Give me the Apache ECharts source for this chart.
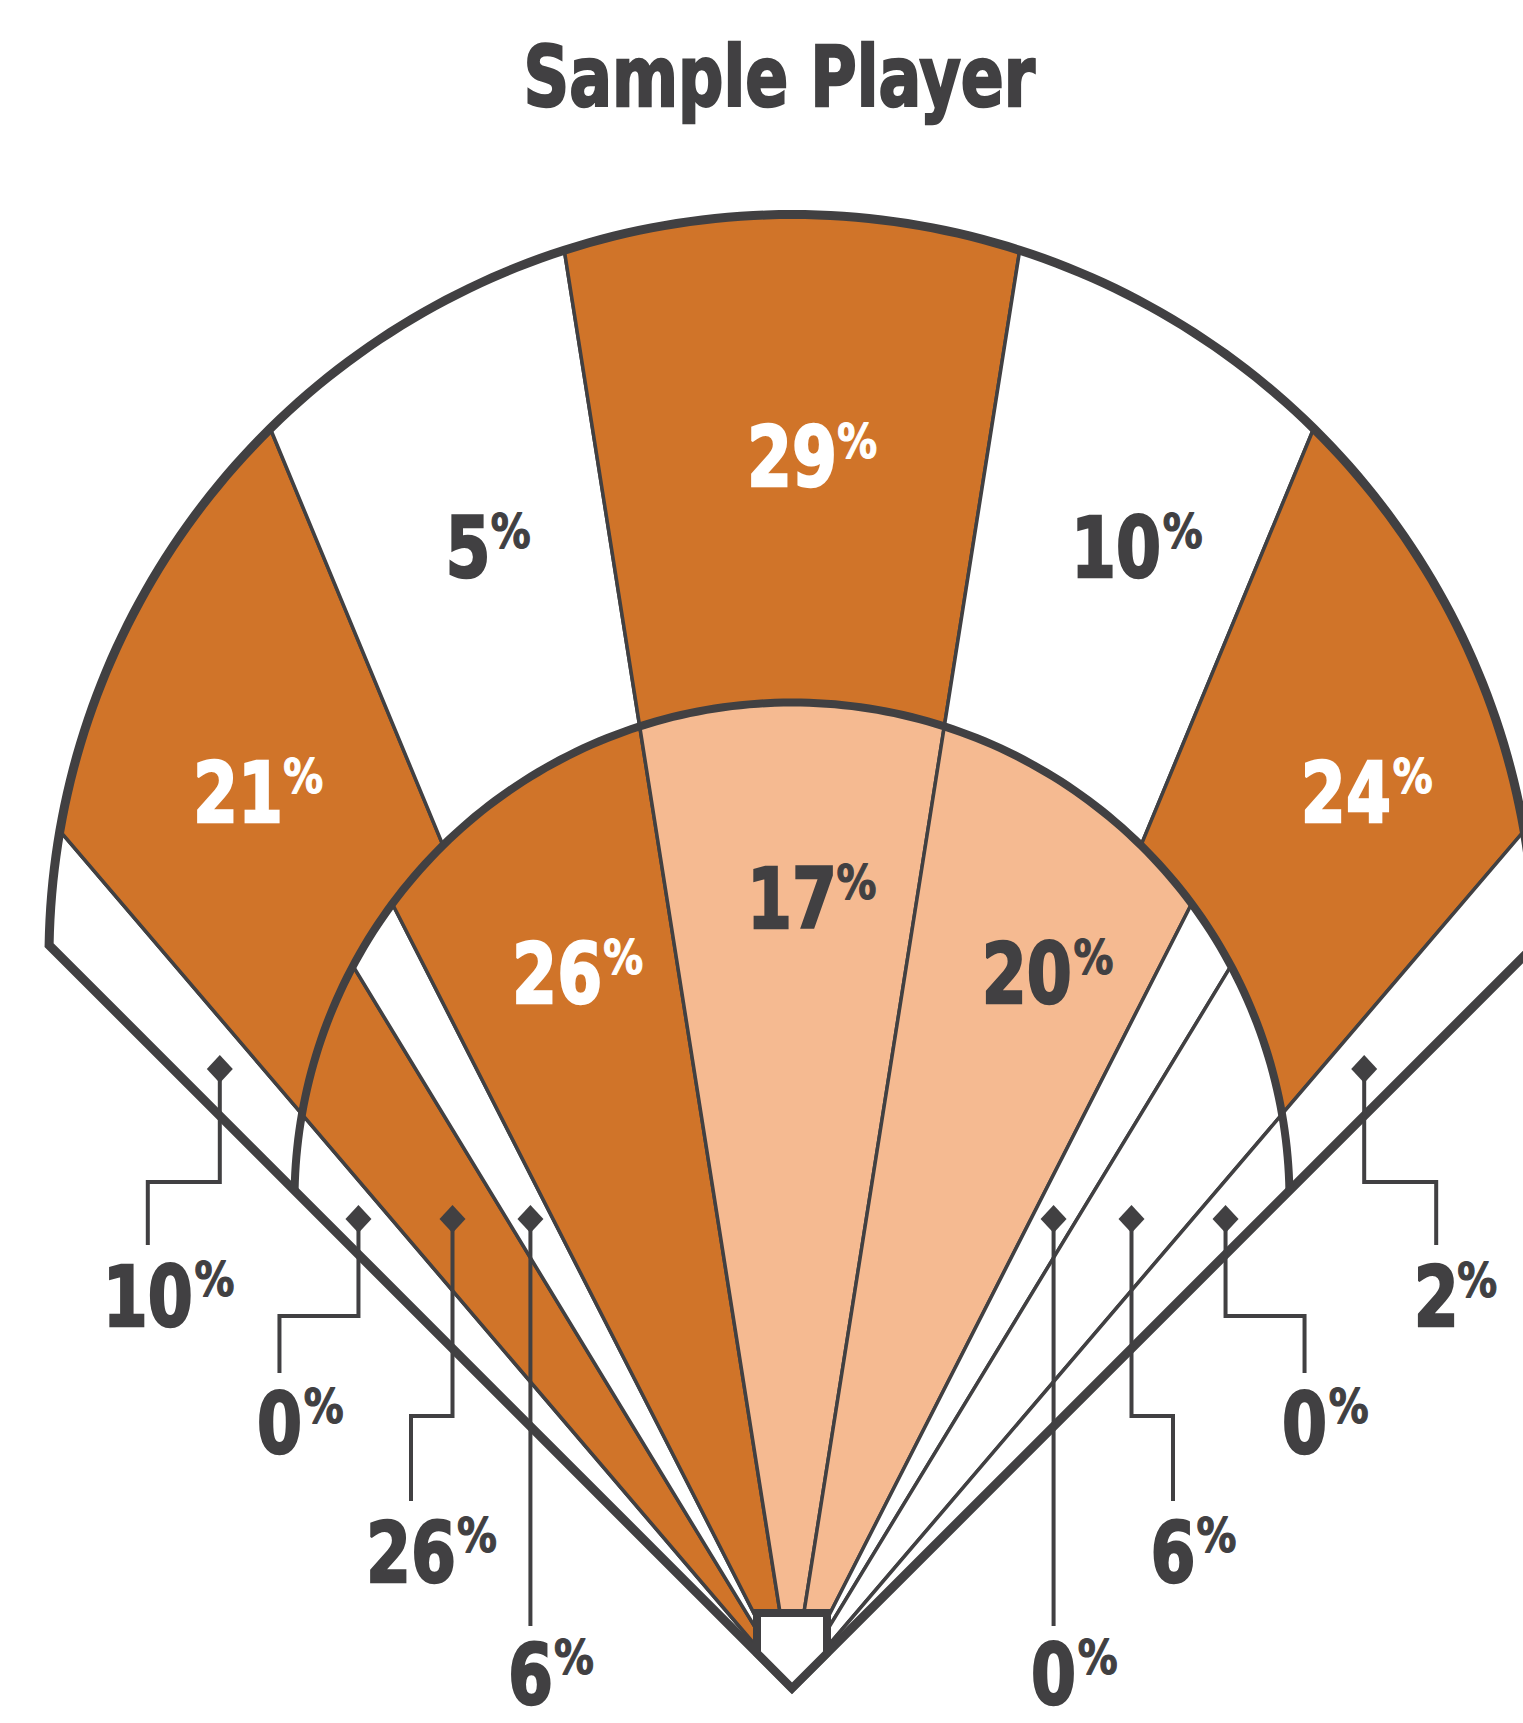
<!DOCTYPE html>
<html>
<head>
<meta charset="utf-8">
<title>Sample Player</title>
<script src="https://cdn.jsdelivr.net/npm/echarts@6/dist/echarts.min.js"></script>
<style>
html, body { margin: 0; padding: 0; background: #fff; }
#chart { width: 1523px; height: 1723px; }
</style>
</head>
<body>
<div id="chart"></div>
<script>
// spray angles in degrees, 0 = straight to centre field, negative = left field side
const outfieldEdges = [-45, -40.5, -22.5, -9, 9, 22.5, 40.5, 45];
const outfieldPct   = [10, 21, 5, 29, 10, 24, 2];
const infieldEdges  = [-45, -40.5, -31.3, -27, -9, 9, 27, 31.3, 40.5, 45];
const infieldPct    = [0, 26, 6, 26, 17, 20, 0, 6, 0];
const chartTitle = 'Sample Player';

// field shape, in axis units (home plate tip = 0,0, y up)
const FENCE = { h: 730.5, r: 743 };     // centre height above home, radius
const INFIELD = { h: 488, r: 497.5 };
const FOUL = 45;
const PLATE = [[-35, 75], [35, 75], [35, 35], [0, 0], [-35, 35]];
const INK = '#414042';
const FONT = '"DejaVu Sans", "Liberation Sans", sans-serif';
const NARROW = 12;   // zones thinner than this get a callout instead of an inside label
// callout leader layout per level (0 = outfield strip, 1..3 = infield strips from the foul line in)
const LEVELS = [
    { diamondUp: 619, cornerUp: 506, dx: 72,   endUp: 443, textUp: 400 },
    { diamondUp: 469, cornerUp: 372, dx: 79,   endUp: 315, textUp: 273 },
    { diamondUp: 469, cornerUp: 272, dx: 41.5, endUp: 187, textUp: 144 },
    { diamondUp: 469, cornerUp: null, dx: 0,   endUp: 62,  textUp: 22 }
];

const rad = d => d * Math.PI / 180;
// distance from home plate to a circle along a spray ray
function reach(theta, c) {
    const s = Math.sin(rad(theta)), k = Math.cos(rad(theta));
    return c.h * k + Math.sqrt(c.r * c.r - c.h * c.h * s * s);
}
function polar(theta, t) {
    return [t * Math.sin(rad(theta)), t * Math.cos(rad(theta))];
}
function arc(a0, a1, c) {
    const n = Math.max(2, Math.ceil(Math.abs(a1 - a0) / 0.5));
    const pts = [];
    for (let i = 0; i <= n; i++) {
        const a = a0 + (a1 - a0) * i / n;
        pts.push(polar(a, reach(a, c)));
    }
    return pts;
}

// text measuring, used to squeeze the installed font into the condensed look
const meter = document.createElement('canvas').getContext('2d');
function ink(text, size, align) {
    meter.font = 'bold ' + size + 'px ' + FONT;
    meter.textBaseline = 'middle';
    meter.textAlign = align || 'left';
    const m = meter.measureText(text);
    return { w: m.width, asc: m.actualBoundingBoxAscent, desc: m.actualBoundingBoxDescent,
             left: m.actualBoundingBoxLeft, right: m.actualBoundingBoxRight };
}
function fit(sample, inkH, inkW) {
    const m = ink(sample, 100);
    const size = 100 * inkH / (m.asc + m.desc);
    const s = ink(sample, size);
    return { size: size, sx: inkW / (s.left + s.right) };
}
const NUM_STROKE = 2.5, PCT_STROKE = 1.2;
const NUM = fit('0', 66 - NUM_STROKE, 42 - NUM_STROKE);
const PCT = fit('%', 38 - PCT_STROKE, 39 - PCT_STROKE);

// digits centred on (x,y), small % top-aligned on the right
function pctLabel(x, y, v, color) {
    const num = String(v);
    const d = ink(num, NUM.size, 'center'), p = ink('%', PCT.size, 'left');
    const yMid = y - (d.desc - d.asc) / 2;
    const inkTop = yMid - d.asc;
    const px = x + d.right * NUM.sx + 5 + p.left * PCT.sx;
    return [
        { type: 'text', x: x, y: yMid, scaleX: NUM.sx,
          style: { text: num, fill: color, stroke: color, lineWidth: NUM_STROKE, fontSize: NUM.size, fontWeight: 'bold', fontFamily: FONT, align: 'center', verticalAlign: 'middle' } },
        { type: 'text', x: px, y: inkTop + p.asc, scaleX: PCT.sx,
          style: { text: '%', fill: color, stroke: color, lineWidth: PCT_STROKE, fontSize: PCT.size, fontWeight: 'bold', fontFamily: FONT, align: 'left', verticalAlign: 'middle' } }
    ];
}

let zoneData = [];
outfieldPct.forEach((v, i) => zoneData.push([outfieldEdges[i], outfieldEdges[i + 1], v, 1]));
infieldPct.forEach((v, i) => zoneData.push([infieldEdges[i], infieldEdges[i + 1], v, 0]));

const mid = z => (z[0] + z[1]) / 2;
const narrow = zoneData.filter(z => z[1] - z[0] < NARROW);
const calloutData = narrow.map(z => {
    let level = 0;
    if (z[3] === 0) {
        level = 1 + narrow.filter(o => o[3] === 0 && Math.sign(mid(o)) === Math.sign(mid(z)) && Math.abs(mid(o)) > Math.abs(mid(z))).length;
    }
    return z.concat(level);
});

// title squeezed to the reference's width
const TITLE_STROKE = 2.5;
const titleFit = fit('H', 64 - TITLE_STROKE, 1);
const titleInk = ink(chartTitle, titleFit.size);
const titleSx = (510 - TITLE_STROKE) / (titleInk.left + titleInk.right);
const titleH = ink('H', titleFit.size);

var chart = echarts.init(document.getElementById('chart'), null, { renderer: 'svg' });
var option = {
    animation: false,
    graphic: [{
        type: 'text',
        x: 528 + titleInk.left * titleSx,
        y: 37 + titleH.asc,
        scaleX: titleSx,
        z: 10,
        style: { text: chartTitle, fill: INK, stroke: INK, lineWidth: TITLE_STROKE, fontSize: titleFit.size, fontWeight: 'bold', fontFamily: FONT, align: 'left', verticalAlign: 'middle' }
    }],
    grid: { left: 0, right: 0, top: 0, bottom: 0 },
    xAxis: { type: 'value', min: -792, max: 731, show: false },
    yAxis: { type: 'value', min: -35, max: 1688, show: false },
    visualMap: {
        type: 'piecewise',
        show: false,
        seriesIndex: 0,
        dimension: 2,
        pieces: [
            { lt: 15, color: '#ffffff' },
            { gte: 15, lt: 21, color: '#F5BA91' },
            { gte: 21, color: '#D07429' }
        ]
    },
    series: [
        {
            name: 'zones',
            type: 'custom',
            z: 2,
            data: zoneData,
            renderItem: function (params, api) {
                const a0 = api.value(0), a1 = api.value(1), v = api.value(2), ring = api.value(3);
                const pts = ring === 1
                    ? arc(a0, a1, FENCE).concat(arc(a1, a0, INFIELD))
                    : [[0, 0]].concat(arc(a0, a1, INFIELD));
                const children = [{
                    type: 'polygon',
                    shape: { points: pts.map(p => api.coord(p)) },
                    style: { fill: api.visual('color'), stroke: INK, lineWidth: 3.5, lineJoin: 'round' }
                }];
                if (a1 - a0 >= NARROW) {
                    const m = (a0 + a1) / 2;
                    const inner = reach(m, INFIELD);
                    const t = ring === 1 ? inner + 0.52 * (reach(m, FENCE) - inner) : 0.81 * inner;
                    const c = api.coord(polar(m, t));
                    pctLabel(c[0], c[1], v, v >= 21 ? '#ffffff' : INK).forEach(e => children.push(e));
                }
                return { type: 'group', children: children };
            }
        },
        {
            name: 'field',
            type: 'custom',
            z: 3,
            data: [[0, 0]],
            renderItem: function (params, api) {
                const outer = [[0, 0]].concat(arc(-FOUL, FOUL, FENCE)).concat([[0, 0]]);
                return {
                    type: 'group',
                    children: [
                        { type: 'polygon', shape: { points: outer.map(p => api.coord(p)) },
                          style: { fill: 'none', stroke: INK, lineWidth: 9, lineJoin: 'miter' } },
                        { type: 'polyline', shape: { points: arc(-FOUL, FOUL, INFIELD).map(p => api.coord(p)) },
                          style: { fill: 'none', stroke: INK, lineWidth: 8 } },
                        { type: 'polygon', shape: { points: PLATE.map(p => api.coord(p)) },
                          style: { fill: '#ffffff', stroke: INK, lineWidth: 8, lineJoin: 'miter' } }
                    ]
                };
            }
        },
        {
            name: 'callouts',
            type: 'custom',
            z: 4,
            data: calloutData,
            renderItem: function (params, api) {
                const a0 = api.value(0), a1 = api.value(1), v = api.value(2);
                const lvl = LEVELS[api.value(4)];
                const m = (a0 + a1) / 2, side = m < 0 ? -1 : 1;
                const dx = lvl.diamondUp * Math.tan(rad(m));
                const ex = dx + side * lvl.dx;
                const path = [[dx, lvl.diamondUp]];
                if (lvl.cornerUp !== null) path.push([dx, lvl.cornerUp], [ex, lvl.cornerUp]);
                path.push([ex, lvl.endUp]);
                const d = api.coord([dx, lvl.diamondUp]);
                const t = api.coord([ex, lvl.textUp]);
                const children = [
                    { type: 'polyline', shape: { points: path.map(p => api.coord(p)) },
                      style: { fill: 'none', stroke: INK, lineWidth: 4, lineJoin: 'miter' } },
                    { type: 'polygon', shape: { points: [[d[0], d[1] - 14], [d[0] + 13, d[1]], [d[0], d[1] + 14], [d[0] - 13, d[1]]] },
                      style: { fill: INK } }
                ];
                pctLabel(t[0], t[1], v, INK).forEach(e => children.push(e));
                return { type: 'group', children: children };
            }
        }
    ]
};
chart.setOption(option);
</script>
</body>
</html>
